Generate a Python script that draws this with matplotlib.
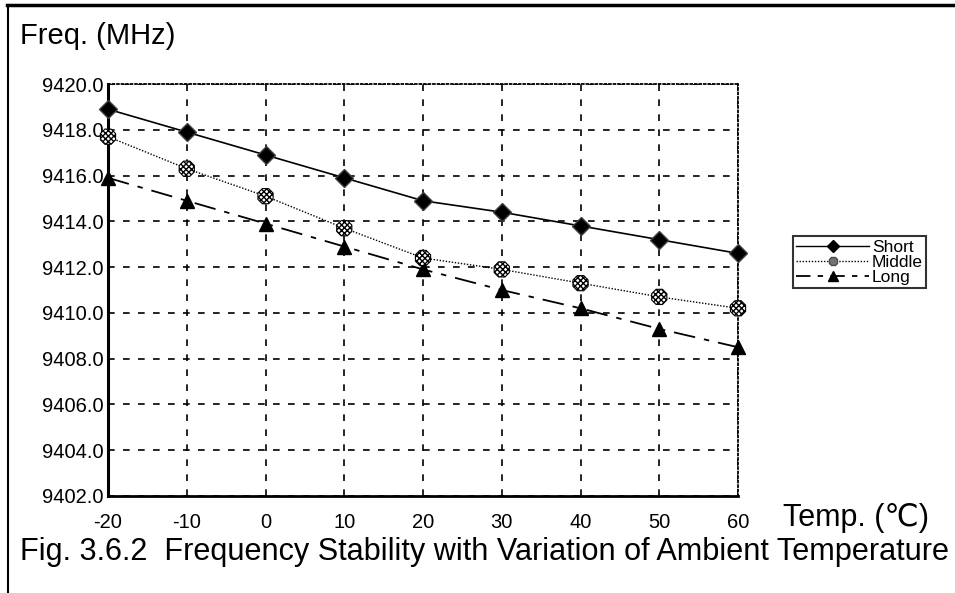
import matplotlib.pyplot as plt
from matplotlib.lines import Line2D

plt.rcParams['font.family'] = ['Liberation Sans', 'DejaVu Sans']
plt.rcParams['axes.unicode_minus'] = False

# 温度 (℃)
temps = [-20, -10, 0, 10, 20, 30, 40, 50, 60]
# 频率 (MHz)
short = [9418.9, 9417.9, 9416.9, 9415.9, 9414.9, 9414.4, 9413.8, 9413.2, 9412.6]
middle = [9417.7, 9416.3, 9415.1, 9413.7, 9412.4, 9411.9, 9411.3, 9410.7, 9410.2]
long_ = [9415.9, 9414.9, 9413.9, 9412.9, 9411.9, 9411.0, 9410.2, 9409.3, 9408.5]

yticks = [9402.0, 9404.0, 9406.0, 9408.0, 9410.0, 9412.0, 9414.0, 9416.0, 9418.0, 9420.0]
xticks = [-20, -10, 0, 10, 20, 30, 40, 50, 60]

fig = plt.figure(figsize=(9.55, 5.93), dpi=100)
ax = fig.add_axes([0.1131, 0.1636, 0.6597, 0.6947])

ax.set_xlim(-20, 60)
ax.set_ylim(9402, 9420)
ax.set_xticks(xticks)
ax.set_yticks(yticks)
ax.set_yticklabels(['%.1f' % v for v in yticks])
ax.tick_params(length=0, labelsize=14.5)
ax.tick_params(axis='x', pad=12)
ax.tick_params(axis='y', pad=3)

ax.grid(True, color='black', linestyle=(0, (4, 5)), linewidth=1.2)
for s in ['top', 'right']:
    ax.spines[s].set_linestyle((0, (1, 1.5)))
    ax.spines[s].set_linewidth(1.3)
ax.spines['left'].set_linewidth(2.2)
ax.spines['bottom'].set_linewidth(2.0)

# 三条曲线
ax.plot(temps, short, color='black', lw=1.2, marker='D', ms=9, mfc='black', mec='0.25',
        clip_on=False, zorder=4)
ax.plot(temps, middle, color='black', lw=1.0, linestyle=(0, (1, 1.2)), zorder=4)
ax.scatter(temps, middle, marker='8', s=140, facecolor='white', edgecolor='black',
           hatch='xxxxxx', linewidth=0.8, clip_on=False, zorder=5)
ax.plot(temps, long_, color='black', lw=1.3, linestyle=(0, (12, 5, 3, 5)), marker='^', ms=10,
        mfc='black', mec='black', clip_on=False, zorder=4)

handles = [
    Line2D([], [], color='black', lw=1.0, marker='D', ms=6, mfc='black'),
    Line2D([], [], color='black', lw=1.0, linestyle=(0, (1, 1.2)), marker='8', ms=6, mfc='0.45', mec='0.3'),
    Line2D([], [], color='black', lw=1.3, linestyle=(0, (8, 4, 3, 4)), marker='^', ms=7, mfc='black'),
]
leg = fig.legend(handles, ['Short', 'Middle', 'Long'], loc='upper left',
                 bbox_to_anchor=(793 / 955, 1 - 236 / 593), fontsize=12.5,
                 frameon=True, fancybox=False, edgecolor='black', handlelength=4.2,
                 handletextpad=0.15, labelspacing=0.0, borderpad=0.2, borderaxespad=0)
leg.get_frame().set_linewidth(1.5)

fig.text(20 / 955, 1 - 36 / 593, 'Freq. (MHz)', fontsize=21, va='center', ha='left')
fig.text(783 / 955, 1 - 518 / 593, 'Temp. (℃)', fontsize=22, va='center', ha='left')
fig.text(20 / 955, 1 - 552 / 593,
         'Fig. 3.6.2  Frequency Stability with Variation of Ambient Temperature',
         fontsize=22.1, va='center', ha='left')

# 外框
fig.add_artist(Line2D([7 / 955, 1], [1 - 5 / 593, 1 - 5 / 593], color='black', lw=2.5,
                      transform=fig.transFigure))
fig.add_artist(Line2D([8 / 955, 8 / 955], [0, 1 - 5 / 593], color='black', lw=1.5,
                      transform=fig.transFigure))

fig.savefig('out.png', dpi=100)
